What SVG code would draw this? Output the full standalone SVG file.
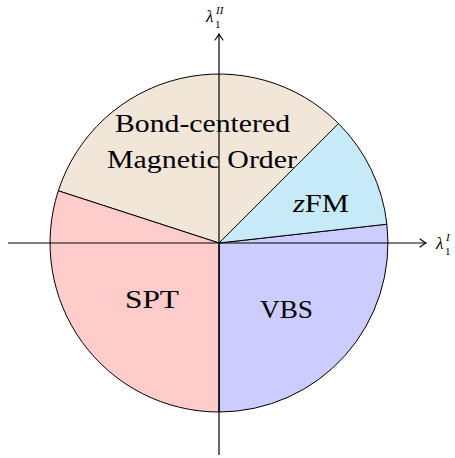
<svg xmlns="http://www.w3.org/2000/svg" width="455" height="458" viewBox="0 0 455 458">
<style>
.sec{stroke:#000;stroke-width:1;stroke-linejoin:round}
.lbl{font-family:"Liberation Serif","DejaVu Serif",serif;fill:#000}
.big{font-size:26px}
.ax{stroke:#000;stroke-width:1.2;fill:none}
</style>
<defs>
<marker id="arr" viewBox="-8 -5 10 10" refX="0" refY="0" markerWidth="10" markerHeight="10" markerUnits="userSpaceOnUse" orient="auto">
<path d="M-6,-4 Q-2,-1 0,0 Q-2,1 -6,4" fill="none" stroke="#000" stroke-width="1.1" stroke-linecap="round"/>
</marker>
</defs>
<g id="sectors">
<g id="vbs"><path class="sec" fill="#ccccff" d="M219,243 L219,412 A169,169 0 0 0 386.9,224.2 Z"/></g>
<g id="zfm"><path class="sec" fill="#c6eaf8" d="M219,243 L386.9,224.2 A169,169 0 0 0 338.5,123.5 Z"/></g>
<g id="bond"><path class="sec" fill="#f2e6d9" d="M219,243 L338.5,123.5 A169,169 0 0 0 58.3,190.8 Z"/></g>
<g id="spt"><path class="sec" fill="#ffcccc" d="M219,243 L58.3,190.8 A169,169 0 0 0 219,412 Z"/></g>
</g>
<g id="connectors">
<line class="ax" x1="8" y1="243" x2="426" y2="243" marker-end="url(#arr)"/>
<line class="ax" x1="219" y1="455" x2="219" y2="34" marker-end="url(#arr)"/>
</g>
<g id="labels">
<text class="lbl big" x="115" y="132" textLength="175" lengthAdjust="spacingAndGlyphs">Bond-centered</text>
<text class="lbl big" x="107" y="168" textLength="190" lengthAdjust="spacingAndGlyphs">Magnetic Order</text>
<text class="lbl big" x="293" y="212" textLength="56" lengthAdjust="spacingAndGlyphs"><tspan font-style="italic">z</tspan>FM</text>
<text class="lbl big" x="125" y="308" textLength="54" lengthAdjust="spacingAndGlyphs">SPT</text>
<text class="lbl big" x="260" y="318" textLength="53" lengthAdjust="spacingAndGlyphs">VBS</text>
<text class="lbl" x="206" y="22" font-size="17" font-style="italic">λ</text>
<text class="lbl" x="215" y="28" font-size="11">1</text>
<text class="lbl" x="216" y="14" font-size="11" font-style="italic">II</text>
<text class="lbl" x="436" y="249" font-size="17" font-style="italic">λ</text>
<text class="lbl" x="445" y="255" font-size="11">1</text>
<text class="lbl" x="446" y="241" font-size="11" font-style="italic">I</text>
</g>
</svg>
